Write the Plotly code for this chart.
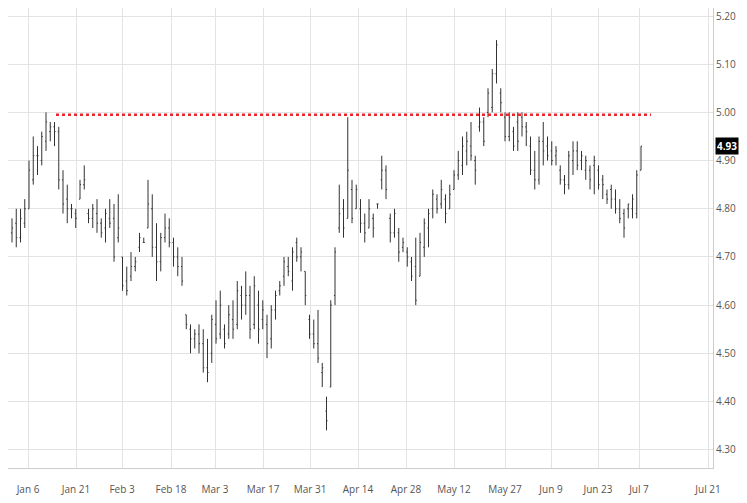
import plotly.graph_objects as go

# OHLC bars (open, high, low, close), oldest first
bars = [
(4.75,4.78,4.73,4.76),(4.77,4.80,4.72,4.74),(4.74,4.80,4.73,4.78),(4.77,4.82,4.76,4.80),
(4.80,4.90,4.80,4.88),(4.86,4.95,4.85,4.91),(4.91,4.93,4.87,4.91),(4.90,4.96,4.89,4.95),
(4.94,5.00,4.92,4.98),(4.96,4.98,4.94,4.97),(4.97,4.98,4.93,4.96),(4.96,4.97,4.84,4.86),
(4.86,4.88,4.79,4.81),(4.82,4.85,4.77,4.80),(4.80,4.81,4.78,4.80),(4.79,4.80,4.76,4.78),
(4.82,4.86,4.82,4.85),(4.85,4.89,4.84,4.86),(4.79,4.80,4.77,4.78),(4.78,4.81,4.76,4.80),
(4.79,4.82,4.75,4.77),(4.77,4.78,4.74,4.75),(4.76,4.80,4.73,4.79),(4.78,4.82,4.76,4.77),
(4.78,4.81,4.69,4.70),(4.74,4.83,4.73,4.76),(4.70,4.70,4.63,4.64),(4.65,4.68,4.62,4.63),
(4.66,4.71,4.65,4.68),(4.68,4.70,4.67,4.69),(4.72,4.75,4.71,4.74),(4.73,4.74,4.73,4.73),
(4.76,4.86,4.76,4.81),(4.80,4.83,4.70,4.72),(4.72,4.77,4.65,4.69),(4.69,4.75,4.67,4.74),
(4.74,4.79,4.73,4.76),(4.76,4.78,4.72,4.73),(4.73,4.74,4.68,4.70),(4.70,4.72,4.66,4.68),
(4.68,4.70,4.64,4.65),(4.58,4.58,4.55,4.56),(4.55,4.56,4.50,4.53),(4.53,4.55,4.51,4.54),
(4.54,4.56,4.50,4.52),(4.52,4.55,4.46,4.47),(4.47,4.53,4.44,4.46),(4.50,4.58,4.48,4.57),
(4.56,4.61,4.52,4.53),(4.54,4.63,4.53,4.60),(4.55,4.56,4.51,4.52),(4.54,4.60,4.53,4.58),
(4.57,4.61,4.53,4.55),(4.56,4.65,4.55,4.63),(4.62,4.64,4.57,4.60),(4.60,4.67,4.58,4.62),
(4.62,4.64,4.53,4.55),(4.56,4.66,4.55,4.64),(4.60,4.63,4.52,4.55),(4.57,4.61,4.55,4.59),
(4.56,4.58,4.49,4.52),(4.53,4.60,4.51,4.59),(4.59,4.63,4.57,4.62),(4.63,4.65,4.62,4.64),
(4.66,4.70,4.64,4.69),(4.68,4.70,4.66,4.67),(4.65,4.72,4.63,4.71),(4.73,4.74,4.69,4.70),
(4.70,4.72,4.67,4.71),(4.67,4.67,4.60,4.62),(4.57,4.58,4.53,4.54),(4.54,4.57,4.51,4.52),
(4.52,4.59,4.48,4.49),(4.46,4.48,4.43,4.47),(4.38,4.41,4.34,4.36),(4.43,4.61,4.43,4.60),
(4.62,4.72,4.60,4.71),(4.76,4.85,4.75,4.79),(4.80,4.82,4.74,4.76),(4.78,4.99,4.78,4.88),
(4.84,4.86,4.77,4.78),(4.80,4.85,4.80,4.84),(4.80,4.82,4.75,4.77),(4.77,4.79,4.73,4.75),
(4.76,4.82,4.76,4.80),(4.78,4.79,4.74,4.76),(4.81,4.81,4.80,4.81),(4.86,4.91,4.84,4.88),
(4.88,4.89,4.82,4.84),(4.78,4.79,4.73,4.75),(4.75,4.80,4.74,4.79),(4.75,4.76,4.69,4.71),
(4.72,4.74,4.71,4.73),(4.71,4.72,4.68,4.70),(4.69,4.70,4.65,4.66),(4.68,4.74,4.60,4.61),
(4.66,4.75,4.66,4.73),(4.72,4.78,4.70,4.77),(4.76,4.80,4.72,4.79),(4.80,4.84,4.78,4.83),
(4.82,4.83,4.79,4.80),(4.81,4.86,4.80,4.84),(4.82,4.83,4.77,4.79),(4.80,4.85,4.80,4.83),
(4.84,4.88,4.84,4.87),(4.87,4.92,4.86,4.90),(4.89,4.95,4.87,4.93),(4.92,4.96,4.89,4.94),
(4.93,4.98,4.90,4.91),(4.90,4.91,4.85,4.88),(4.97,5.01,4.96,4.98),(4.98,4.99,4.93,4.94),
(5.00,5.05,4.99,5.04),(5.01,5.09,5.00,5.08),(5.08,5.15,5.06,5.14),(5.04,5.05,5.00,5.02),
(4.99,5.00,4.94,4.95),(4.95,5.00,4.94,4.99),(4.96,4.97,4.92,4.93),(4.98,5.00,4.92,4.94),
(4.99,5.00,4.95,4.97),(4.97,4.98,4.93,4.96),(4.93,4.95,4.87,4.88),(4.88,4.92,4.84,4.86),
(4.86,4.95,4.85,4.94),(4.94,4.98,4.89,4.92),(4.93,4.95,4.90,4.91),(4.92,4.94,4.89,4.90),
(4.91,4.93,4.89,4.92),(4.88,4.89,4.85,4.86),(4.86,4.87,4.83,4.85),(4.85,4.92,4.84,4.91),
(4.90,4.94,4.87,4.92),(4.92,4.94,4.88,4.89),(4.90,4.92,4.88,4.91),(4.88,4.91,4.86,4.90),
(4.88,4.89,4.84,4.86),(4.89,4.91,4.83,4.90),(4.88,4.89,4.84,4.85),(4.86,4.87,4.82,4.85),
(4.83,4.84,4.81,4.82),(4.84,4.85,4.80,4.82),(4.82,4.84,4.79,4.80),(4.80,4.82,4.77,4.78),
(4.79,4.80,4.74,4.76),(4.80,4.81,4.78,4.81),(4.80,4.83,4.78,4.82),(4.79,4.88,4.78,4.87),
(4.88,4.93,4.88,4.93),
]
opens = [b[0] for b in bars]
highs = [b[1] for b in bars]
lows = [b[2] for b in bars]
closes = [b[3] for b in bars]
idx = list(range(len(bars)))

tick_labels = ["Jan 6","Jan 21","Feb 3","Feb 18","Mar 3","Mar 17","Mar 31","Apr 14",
               "Apr 28","May 12","May 27","Jun 9","Jun 23","Jul 7","Jul 21"]
tick_px = [20,68,114,163,207,255,302,350,398,446,497,543,590,631,700]
px0, px1 = 4, 633
step = (px1 - px0) / (len(bars) - 1)
tick_vals = [(p - px0) / step for p in tick_px]
resistance = 4.995
last_price = closes[-1]

fig = go.Figure()
fig.add_trace(go.Ohlc(x=idx, open=opens, high=highs, low=lows, close=closes,
                      increasing_line_color="#333", decreasing_line_color="#333",
                      line_width=1, tickwidth=0.25, showlegend=False, hoverinfo="skip"))
fig.add_trace(go.Scatter(x=[(48-px0)/step, (643-px0)/step], y=[resistance, resistance],
                         mode="lines", line=dict(color="#e8262b", width=2.5, dash="dot"),
                         showlegend=False, hoverinfo="skip"))
fig.add_annotation(x=1, xref="paper", y=last_price, yref="y", text="<b>%.2f</b>" % last_price,
                   showarrow=False, xanchor="left", xshift=2, bgcolor="black",
                   font=dict(color="white", size=10, family="Open Sans"), borderpad=1)
fig.update_layout(
    width=747, height=503, margin=dict(l=0, r=42, t=0, b=43),
    plot_bgcolor="white", paper_bgcolor="white",
    font=dict(family="Open Sans", size=10, color="#555"),
    xaxis=dict(range=[(0-px0)/step, (705-px0)/step], tickvals=tick_vals, ticktext=tick_labels,
               showgrid=True, gridcolor="#e3e3e3", rangeslider=dict(visible=False),
               zeroline=False, showline=True, linecolor="#ccc", ticks="", ticklabelstandoff=12),
    yaxis=dict(side="right", range=[4.262, 5.2166], dtick=0.1, tick0=4.3, tickformat=".2f",
               showgrid=True, gridcolor="#e3e3e3", zeroline=False, showline=True, linecolor="#ccc",
               ticks=""),
)
fig.write_html("out.html")
